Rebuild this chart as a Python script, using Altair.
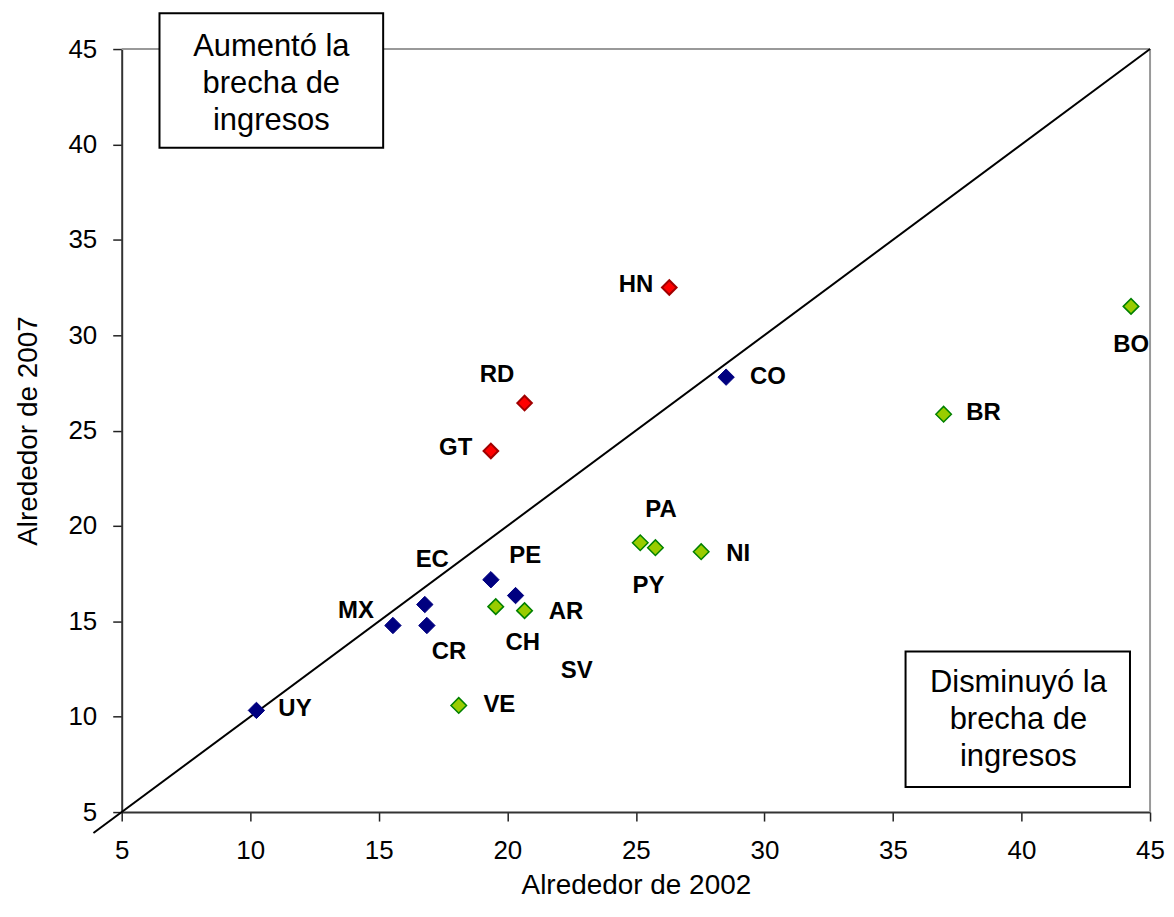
import altair as alt
import pandas as pd

# --- data ---
codes = ["UY", "MX", "EC", "CR", "PE", "SV", "CO",
         "CH", "AR", "VE", "PA", "PY", "NI", "BR", "BO",
         "HN", "RD", "GT"]
x2002 = [10.24, 15.55, 16.79, 16.87, 19.36, 20.32, 28.51,
         19.55, 20.67, 18.11, 25.17, 25.76, 27.54, 36.97, 44.26,
         26.30, 20.67, 19.36]
y2007 = [10.33, 14.78, 15.88, 14.78, 17.18, 16.35, 27.80,
         15.77, 15.56, 10.59, 19.12, 18.86, 18.65, 25.86, 31.51,
         32.50, 26.44, 23.93]
grupo = ["Sin cambio"] * 7 + ["Disminuyó"] * 8 + ["Aumentó"] * 3

# label anchor positions (data units)
label_x = [11.74, 14.11, 17.08, 17.73, 20.70, 22.70, 30.14,
           20.60, 22.28, 19.69, 25.98, 25.49, 28.98, 38.52, 44.27,
           25.01, 19.60, 17.99]
label_y = [10.39, 15.53, 18.23, 13.40, 18.40, 12.39, 27.81,
           13.87, 15.47, 10.61, 20.81, 16.83, 18.54, 25.90, 29.47,
           32.61, 27.90, 24.07]

grupos = ["Sin cambio", "Disminuyó", "Aumentó"]
fill_colors = ["#000080", "#99CC00", "#FF0000"]
stroke_colors = ["#000080", "#008000", "#A00000"]
sizes = [270, 215, 225]
stroke_widths = [1, 2, 1.5]

box_text = ["Aumentó la\nbrecha de\ningresos", "Disminuyó la\nbrecha de\ningresos"]
box_x1 = [6.47, 35.49]
box_x2 = [15.17, 44.22]
box_y1 = [46.88, 13.42]
box_y2 = [39.82, 6.31]
box_tx = [10.82, 39.88]
box_ty = [45.12, 11.76]

diag_start = 3.9
diag_end = 45

FONT = "Liberation Sans"

pts = pd.DataFrame({"x": x2002, "y": y2007, "grupo": grupo})
labs = pd.DataFrame({"x": label_x, "y": label_y, "code": codes})
boxes = pd.DataFrame({"x": box_x1, "x2": box_x2, "y": box_y1, "y2": box_y2})
btxt = pd.DataFrame({"x": box_tx, "y": box_ty, "t": box_text})
diag = pd.DataFrame({"x": [diag_start], "y": [diag_start], "x2": [diag_end], "y2": [diag_end]})
border = pd.DataFrame({"x": [5, 45], "x2": [45, 45], "y": [45, 5], "y2": [45, 45]})

xs = alt.Scale(domain=[5, 45], nice=False, zero=False)
ys = alt.Scale(domain=[5, 45], nice=False, zero=False)
common_axis = dict(
    values=list(range(5, 50, 5)), grid=False, labelFont=FONT, labelFontSize=26,
    labelColor="black", tickSize=9, tickColor="#222", tickWidth=1.5,
    domainColor="#333", domainWidth=2, titleFont=FONT, titleFontSize=28,
    titleFontWeight="normal", titleColor="black", labelFlush=False,
)
xaxis = alt.Axis(title="Alrededor de 2002", labelPadding=17,
                 titleX=515.5, titleY=82, titleBaseline="alphabetic",
                 titleAlign="center", **common_axis)
yaxis = alt.Axis(title="Alrededor de 2007", labelPadding=16,
                 titleX=-85, titleY=382.5, titleAngle=-90,
                 titleBaseline="alphabetic", titleAlign="center", **common_axis)

X = lambda f="x": alt.X(f, type="quantitative", scale=xs, axis=xaxis)
Y = lambda f="y": alt.Y(f, type="quantitative", scale=ys, axis=yaxis)

border_layer = alt.Chart(border).mark_rule(color="#999999", strokeWidth=2).encode(
    x=X(), x2="x2", y=Y(), y2="y2")

diag_layer = alt.Chart(diag).mark_rule(color="black", strokeWidth=2).encode(
    x=X(), x2="x2", y=Y(), y2="y2")

points = alt.Chart(pts).mark_point(shape="diamond", filled=True, opacity=1).encode(
    x=X(), y=Y(),
    fill=alt.Fill("grupo:N", scale=alt.Scale(domain=grupos, range=fill_colors), legend=None),
    stroke=alt.Stroke("grupo:N", scale=alt.Scale(domain=grupos, range=stroke_colors), legend=None),
    size=alt.Size("grupo:N", scale=alt.Scale(domain=grupos, range=sizes), legend=None),
    strokeWidth=alt.StrokeWidth("grupo:N", scale=alt.Scale(domain=grupos, range=stroke_widths), legend=None),
)

labels = alt.Chart(labs).mark_text(font=FONT, fontSize=24, fontWeight="bold",
                                   color="black", align="center", baseline="middle").encode(
    x=X(), y=Y(), text="code:N")

box_layer = alt.Chart(boxes).mark_rect(fill="white", stroke="black", strokeWidth=2).encode(
    x=X(), x2="x2", y=Y(), y2="y2")

box_text_layer = alt.Chart(btxt).mark_text(font=FONT, fontSize=31, color="black",
                                           align="center", baseline="middle",
                                           lineBreak="\n", lineHeight=37).encode(
    x=X(), y=Y(), text="t:N")

chart = alt.layer(border_layer, diag_layer, points, labels, box_layer, box_text_layer).properties(
    width=1031, height=765,
    autosize=alt.AutoSizeParams(type="none"),
    padding={"left": 114, "top": 40, "right": 16, "bottom": 88},
    background="white",
).configure_view(stroke=None)

chart.save("out.html", embed_options={"renderer": "svg", "actions": False})
